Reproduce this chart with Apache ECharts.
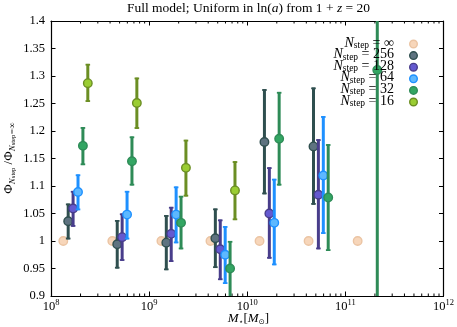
<!DOCTYPE html>
<html><head><meta charset="utf-8">
<script src="https://cdn.jsdelivr.net/npm/echarts@6/dist/echarts.min.js"></script>
<style>html,body{margin:0;padding:0;background:#fff}#c{width:457px;height:327px}</style>
</head><body><div id="c"></div>
<script>
// ---- data ----
const massBins = [1.334e8, 4.217e8, 1.334e9, 4.217e9, 1.334e10, 4.217e10, 1.334e11];
const stepLabels = ['∞', '256', '128', '64', '32', '16'];
const dodge = [1, 1.122, 1.259, 1.413, 1.585, 1.778];

const phiInf = [1, 1, 1, 1, 1, 1, 1];
const phi256 = [1.036, 0.994, 0.997, 1.005, 1.180, 1.172, null];
const lo256  = [1.003, 0.950, 0.947, 0.951, 1.085, 1.066, null];
const hi256  = [1.068, 1.038, 1.047, 1.059, 1.276, 1.279, null];
const phi128 = [1.059, 1.007, 1.013, 0.985, 1.050, 1.084, null];
const lo128  = [1.026, 0.964, 0.962, 0.929, 0.968, 0.985, null];
const hi128  = [1.091, 1.050, 1.062, 1.039, 1.134, 1.185, null];
const phi64  = [1.089, 1.048, 1.048, 0.975, 1.033, 1.119, null];
const lo64   = [1.056, 1.003, 0.996, 0.922, 0.956, 1.013, null];
const hi64   = [1.121, 1.091, 1.099, 1.027, 1.113, 1.227, null];
const phi32  = [1.173, 1.145, 1.033, 0.950, 1.186, 1.079, 1.311];
const lo32   = [1.138, 1.101, 0.985, 0.899, 1.101, 0.982, 0.5];
const hi32   = [1.207, 1.190, 1.082, 1.000, 1.271, 1.176, 2.1];
const phi16  = [1.287, 1.251, 1.133, 1.092, null, null, null];
const lo16   = [1.253, 1.204, 1.081, 1.038, null, null, null];
const hi16   = [1.322, 1.297, 1.184, 1.145, null, null, null];

const yTicks = [0.9, 0.95, 1, 1.05, 1.1, 1.15, 1.2, 1.25, 1.3, 1.35, 1.4];

// ---- styles ----
const fills   = ['#F7D6BA', '#5E7380', '#6459D0', '#5DB8FF', '#33A663', '#9ACD32'];
const strokes = ['#EBC4A3', '#2F4F4F', '#483D8B', '#1E90FF', '#2E8B57', '#6B8E23'];
const SERIF = "'Liberation Serif','DejaVu Serif',serif";

const allPhi = [phiInf, phi256, phi128, phi64, phi32, phi16];
const allLo = [null, lo256, lo128, lo64, lo32, lo16];
const allHi = [null, hi256, hi128, hi64, hi32, hi16];

function errRenderFactory(color) {
  return function (params, api) {
    const x = api.value(0), lo = api.value(1), hi = api.value(2);
    const cs = params.coordSys;
    const p1 = api.coord([x, lo]), p2 = api.coord([x, hi]);
    const top = cs.y, bot = cs.y + cs.height;
    const y1 = Math.min(Math.max(p1[1], top), bot);
    const y2 = Math.min(Math.max(p2[1], top), bot);
    const children = [{
      type: 'line', shape: { x1: p1[0], y1: y1, x2: p2[0], y2: y2 },
      style: { stroke: color, lineWidth: 3, lineCap: 'butt' }
    }];
    if (p1[1] <= bot + 0.5 && p1[1] >= top) children.push({ type: 'line', shape: { x1: p1[0] - 2.3, y1: p1[1] - 0.8, x2: p1[0] + 2.3, y2: p1[1] - 0.8 }, style: { stroke: color, lineWidth: 1.8 } });
    if (p2[1] >= top - 0.5 && p2[1] <= bot) children.push({ type: 'line', shape: { x1: p2[0] - 2.3, y1: p2[1] + 0.8, x2: p2[0] + 2.3, y2: p2[1] + 0.8 }, style: { stroke: color, lineWidth: 1.8 } });
    return { type: 'group', children: children };
  };
}

const series = [];
// minor ticks on log x-axis (bottom & top)
const minorTickVals = [];
for (let d = 8; d < 12; d++) for (let k = 2; k <= 9; k++) minorTickVals.push([k * Math.pow(10, d)]);
series.push({
  type: 'custom', silent: true, z: 1,
  data: minorTickVals,
  encode: { x: 0 },
  renderItem: function (params, api) {
    const cs = params.coordSys;
    const x = api.coord([api.value(0), 1])[0];
    return { type: 'group', children: [
      { type: 'line', shape: { x1: x, y1: cs.y + cs.height, x2: x, y2: cs.y + cs.height - 2.5 }, style: { stroke: '#000', lineWidth: 1 } },
      { type: 'line', shape: { x1: x, y1: cs.y, x2: x, y2: cs.y + 2.5 }, style: { stroke: '#000', lineWidth: 1 } }
    ] };
  }
});

for (let s = 0; s < 6; s++) {
  if (allLo[s]) {
    const ed = [];
    for (let i = 0; i < massBins.length; i++) {
      if (allPhi[s][i] == null) continue;
      ed.push([massBins[i] * dodge[s], allLo[s][i], allHi[s][i]]);
    }
    series.push({
      type: 'custom', silent: true, clip: true, z: 2 + s * 2,
      data: ed, encode: { x: 0, y: [1, 2] },
      renderItem: errRenderFactory(strokes[s])
    });
  }
  const pd = [];
  for (let i = 0; i < massBins.length; i++) {
    if (allPhi[s][i] == null) continue;
    pd.push([massBins[i] * dodge[s], allPhi[s][i]]);
  }
  series.push({
    type: 'scatter', name: 'N_step = ' + stepLabels[s], z: 3 + s * 2,
    symbol: 'circle', symbolSize: 8.5, data: pd, clip: true,
    itemStyle: { color: fills[s], borderColor: strokes[s], borderWidth: 1.4, opacity: 1 },
    emphasis: { disabled: true }
  });
}

// legend graphics
const graphics = [];
for (let s = 0; s < 6; s++) {
  const yy = 44 + s * 11.6;
  graphics.push({
    type: 'text', x: 394, y: yy - 1, z: 100,
    style: {
      text: '{n|N}{s|step}{e| = ' + stepLabels[s] + '}',
      align: 'right', verticalAlign: 'middle',
      rich: {
        n: { fontFamily: SERIF, fontStyle: 'italic', fontSize: 14, lineHeight: 15, fill: '#000' },
        s: { fontFamily: SERIF, fontSize: 9.5, lineHeight: 9, verticalAlign: 'bottom', fill: '#000' },
        e: { fontFamily: SERIF, fontSize: 14, lineHeight: 15, fill: '#000' }
      }
    }
  });
  graphics.push({
    type: 'circle', z: 100, shape: { cx: 413.5, cy: yy, r: 3.8 },
    style: { fill: fills[s], stroke: strokes[s], lineWidth: 1.4 }
  });
}
// title
graphics.push({
  type: 'text', x: 248.5, y: 8, z: 100,
  style: {
    text: '{r|Full model; Uniform in ln(}{i|a}{r|) from 1 + }{i|z}{r| = 20}',
    align: 'center', verticalAlign: 'middle',
    rich: {
      r: { fontFamily: SERIF, fontSize: 13.5, fill: '#000' },
      i: { fontFamily: SERIF, fontSize: 13.5, fontStyle: 'italic', fill: '#000' }
    }
  }
});
// y-axis name
graphics.push({
  type: 'text', x: 9, y: 158, rotation: Math.PI / 2, z: 100,
  style: {
    text: '{p|Φ}{n|N}{s|step}{p| /Φ}{n|N}{s|step}{n|=∞}',
    align: 'center', verticalAlign: 'middle',
    rich: {
      p: { fontFamily: SERIF, fontSize: 13, lineHeight: 16, fill: '#000' },
      n: { fontFamily: SERIF, fontSize: 9, fontStyle: 'italic', lineHeight: 11, verticalAlign: 'bottom', fill: '#000' },
      s: { fontFamily: SERIF, fontSize: 6.5, lineHeight: 6.5, verticalAlign: 'bottom', fill: '#000' }
    }
  }
});
// x-axis name
graphics.push({
  type: 'text', x: 248.5, y: 319, z: 100,
  style: {
    text: '{m|M}{st|⋆}{r|[}{m|M}{st|⊙}{r|]}',
    align: 'center', verticalAlign: 'middle',
    rich: {
      m: { fontFamily: SERIF, fontSize: 13, fontStyle: 'italic', lineHeight: 15, fill: '#000' },
      r: { fontFamily: SERIF, fontSize: 13, lineHeight: 15, fill: '#000' },
      st: { fontFamily: 'DejaVu Sans', fontSize: 7.5, lineHeight: 9, verticalAlign: 'bottom', fill: '#000' }
    }
  }
});

const axisLineStyle = { color: '#000', width: 1.2 };
const xLabelRich = {
  b: { fontFamily: SERIF, fontSize: 12.5, lineHeight: 15, verticalAlign: 'bottom', color: '#000' },
  sup: { fontFamily: SERIF, fontSize: 8.5, lineHeight: 9, verticalAlign: 'top', color: '#000' }
};

const chart = echarts.init(document.getElementById('c'), null, { renderer: 'canvas' });
chart.setOption({
  animation: false,
  backgroundColor: '#fff',
  grid: { left: 51, right: 11, top: 21, bottom: 31, containLabel: false },
  xAxis: [{
    type: 'log', logBase: 10, min: 1e8, max: 1e12, position: 'bottom',
    axisLine: { show: true, lineStyle: axisLineStyle },
    axisTick: { show: true, inside: true, length: 4.5, lineStyle: { color: '#000', width: 1 } },
    minorTick: { show: false },
    splitLine: { show: false },
    axisLabel: {
      show: true, margin: 2, showMinLabel: true, showMaxLabel: true,
      formatter: function (v) { return '{b|10}{sup|' + Math.round(Math.log10(v)) + '}'; },
      rich: xLabelRich
    }
  }, {
    type: 'log', logBase: 10, min: 1e8, max: 1e12, position: 'top',
    axisLine: { show: true, lineStyle: axisLineStyle },
    axisTick: { show: true, inside: true, length: 4.5, lineStyle: { color: '#000', width: 1 } },
    splitLine: { show: false }, axisLabel: { show: false }
  }],
  yAxis: [{
    type: 'value', min: 0.9, max: 1.4, interval: 0.05, position: 'left',
    axisLine: { show: true, lineStyle: axisLineStyle },
    axisTick: { show: true, inside: true, length: 4.5, lineStyle: { color: '#000', width: 1 } },
    splitLine: { show: false },
    axisLabel: {
      show: true, margin: 6, color: '#000', fontFamily: SERIF, fontSize: 12.5,
      showMinLabel: true, showMaxLabel: true,
      formatter: function (v) { return String(parseFloat(v.toFixed(2))); }
    }
  }, {
    type: 'value', min: 0.9, max: 1.4, interval: 0.05, position: 'right',
    axisLine: { show: true, lineStyle: axisLineStyle },
    axisTick: { show: true, inside: true, length: 4.5, lineStyle: { color: '#000', width: 1 } },
    splitLine: { show: false }, axisLabel: { show: false }
  }],
  series: series,
  graphic: graphics
});
</script>
</body></html>
